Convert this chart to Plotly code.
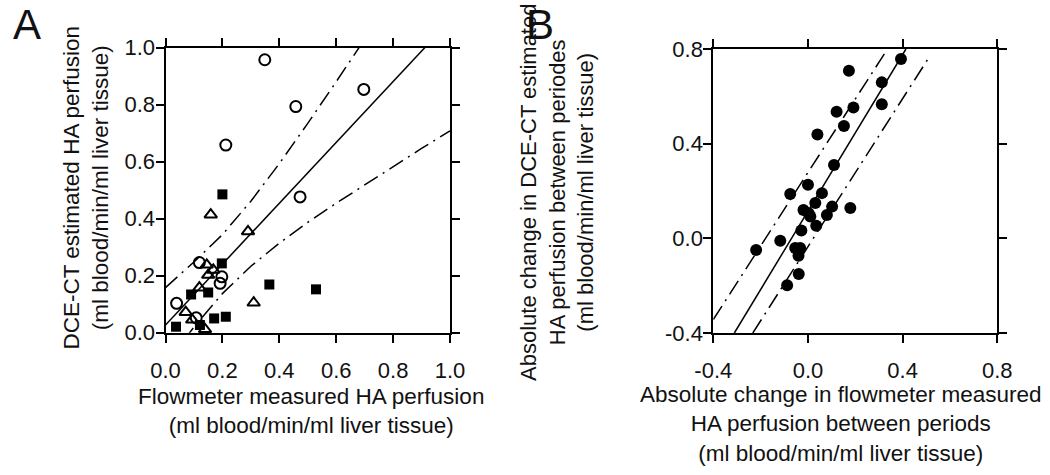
import plotly.graph_objects as go

# ---------------- Panel A data ----------------
a_circle_x = [0.349, 0.697, 0.458, 0.212, 0.473, 0.119, 0.198, 0.192, 0.039, 0.108]
a_circle_y = [0.957, 0.853, 0.793, 0.658, 0.476, 0.246, 0.196, 0.173, 0.103, 0.052]
a_square_x = [0.200, 0.198, 0.365, 0.529, 0.090, 0.150, 0.171, 0.212, 0.037, 0.121]
a_square_y = [0.485, 0.243, 0.169, 0.152, 0.134, 0.141, 0.050, 0.056, 0.021, 0.027]
a_tri_x = [0.159, 0.290, 0.310, 0.145, 0.168, 0.150, 0.119, 0.071, 0.094, 0.139]
a_tri_y = [0.414, 0.355, 0.105, 0.238, 0.220, 0.202, 0.158, 0.072, 0.045, 0.012]

a_fit_x = [0.0, 1.0]
a_fit_y = [0.027, 1.094]
a_upper_x = [0.0, 0.1, 0.2, 0.3, 0.4, 0.5, 0.6, 0.7]
a_upper_y = [0.158, 0.248, 0.344, 0.461, 0.593, 0.734, 0.880, 1.029]
a_lower_x = [0.0, 0.1, 0.2, 0.3, 0.4, 0.5, 0.6, 0.7, 0.8, 0.9, 1.0]
a_lower_y = [-0.112, 0.020, 0.137, 0.233, 0.314, 0.387, 0.454, 0.519, 0.583, 0.646, 0.708]

a_ticks = [0.0, 0.2, 0.4, 0.6, 0.8, 1.0]
a_ticktext = ["0.0", "0.2", "0.4", "0.6", "0.8", "1.0"]

# ---------------- Panel B data ----------------
b_x = [0.393, 0.173, 0.312, 0.312, 0.192, 0.121, 0.152, 0.040, 0.110, 0.000,
       -0.075, 0.059, 0.031, 0.102, 0.179, -0.019, 0.003, 0.010, 0.080, 0.035,
       -0.028, -0.117, -0.219, -0.054, -0.033, -0.040, -0.039, -0.088]
b_y = [0.758, 0.708, 0.659, 0.567, 0.553, 0.535, 0.475, 0.439, 0.310, 0.226,
       0.187, 0.191, 0.149, 0.134, 0.128, 0.120, 0.106, 0.092, 0.099, 0.053,
       0.033, -0.010, -0.049, -0.041, -0.041, -0.074, -0.151, -0.198]

b_fit_x = [-0.311, 0.414]
b_fit_y = [-0.4, 0.8]
b_upper_x = [-0.4, 0.336]
b_upper_y = [-0.343, 0.8]
b_lower_x = [-0.233, 0.518]
b_lower_y = [-0.4, 0.775]

b_ticks = [-0.4, 0.0, 0.4, 0.8]
b_ticktext = ["-0.4", "0.0", "0.4", "0.8"]

# ---------------- Figure ----------------
W, H = 1050, 475
FONT = "Liberation Sans, Arial, sans-serif"
TXT = "#111111"
DASHDOT = "16px,6px,2px,6px"

fig = go.Figure()

def line(x, y, dash, xa, ya):
    fig.add_trace(go.Scatter(x=x, y=y, mode="lines", xaxis=xa, yaxis=ya,
                             line=dict(color="black", width=1.5, dash=dash),
                             showlegend=False, hoverinfo="skip"))

line(a_fit_x, a_fit_y, "solid", "x", "y")
line(a_upper_x, a_upper_y, DASHDOT, "x", "y")
line(a_lower_x, a_lower_y, DASHDOT, "x", "y")

fig.add_trace(go.Scatter(x=a_circle_x, y=a_circle_y, mode="markers", xaxis="x", yaxis="y",
                         marker=dict(symbol="circle-open", size=11, color="black",
                                     line=dict(width=2, color="black")),
                         cliponaxis=False, showlegend=False))
fig.add_trace(go.Scatter(x=a_square_x, y=a_square_y, mode="markers", xaxis="x", yaxis="y",
                         marker=dict(symbol="square", size=10, color="black"),
                         cliponaxis=False, showlegend=False))
fig.add_trace(go.Scatter(x=a_tri_x, y=a_tri_y, mode="markers", xaxis="x", yaxis="y",
                         marker=dict(symbol="triangle-up-open", size=11, color="black",
                                     line=dict(width=2, color="black")),
                         cliponaxis=False, showlegend=False))

line(b_fit_x, b_fit_y, "solid", "x2", "y2")
line(b_upper_x, b_upper_y, DASHDOT, "x2", "y2")
line(b_lower_x, b_lower_y, DASHDOT, "x2", "y2")

fig.add_trace(go.Scatter(x=b_x, y=b_y, mode="markers", xaxis="x2", yaxis="y2",
                         marker=dict(symbol="circle", size=12, color="black"),
                         cliponaxis=False, showlegend=False))

axis_common = dict(showline=True, linecolor="black", linewidth=2, mirror="ticks",
                   ticks="outside", ticklen=8, tickwidth=2, tickcolor="black",
                   showgrid=False, zeroline=False, fixedrange=True, automargin=False,
                   tickfont=dict(family=FONT, size=22, color=TXT))
xax = dict(axis_common, ticklabelstandoff=9)
yax = dict(axis_common, ticklabelstandoff=-4)

def px_x(p):
    return p / W

def px_y(p):
    return 1 - p / H

fig.update_layout(
    template="none",
    width=W, height=H,
    margin=dict(l=0, r=0, t=0, b=0, pad=0, autoexpand=False),
    paper_bgcolor="white", plot_bgcolor="white",
    xaxis=dict(domain=[px_x(165.5), px_x(450)], range=[0, 1], anchor="y",
               tickvals=a_ticks, ticktext=a_ticktext, **xax),
    yaxis=dict(domain=[px_y(332.7), px_y(47.5)], range=[0, 1], anchor="x",
               tickvals=a_ticks, ticktext=a_ticktext, **yax),
    xaxis2=dict(domain=[px_x(713.3), px_x(997.3)], range=[-0.4, 0.8], anchor="y2",
                tickvals=b_ticks, ticktext=b_ticktext, **xax),
    yaxis2=dict(domain=[px_y(333), px_y(49)], range=[-0.4, 0.8], anchor="x2",
                tickvals=b_ticks, ticktext=b_ticktext, **yax),
)

def ann(text, x, y, size=22.5, angle=0, align="center"):
    fig.add_annotation(text=text, x=px_x(x), y=px_y(y), xref="paper", yref="paper",
                       showarrow=False, xanchor="center", yanchor="middle", align=align,
                       textangle=angle, font=dict(family=FONT, size=size, color=TXT))

ann("A", 27, 25, size=42)
ann("B", 540, 25, size=42)

ann("Flowmeter measured HA perfusion<br>(ml blood/min/ml liver tissue)", 311, 411)
ann("Absolute change in flowmeter measured<br>HA perfusion between periods<br>"
    "(ml blood/min/ml liver tissue)", 840, 424)

ann("DCE-CT estimated HA perfusion<br>(ml blood/min/ml liver tissue)", 85, 188.5, angle=-90)
ann("Absolute change in DCE-CT estimated<br>HA perfusion between periodes<br>"
    "(ml blood/min/ml liver tissue)", 557, 193, size=22, angle=-90)

fig.write_html("out.html", config={"displayModeBar": False},
               post_script="document.body.style.margin='0';document.body.style.padding='0';")
